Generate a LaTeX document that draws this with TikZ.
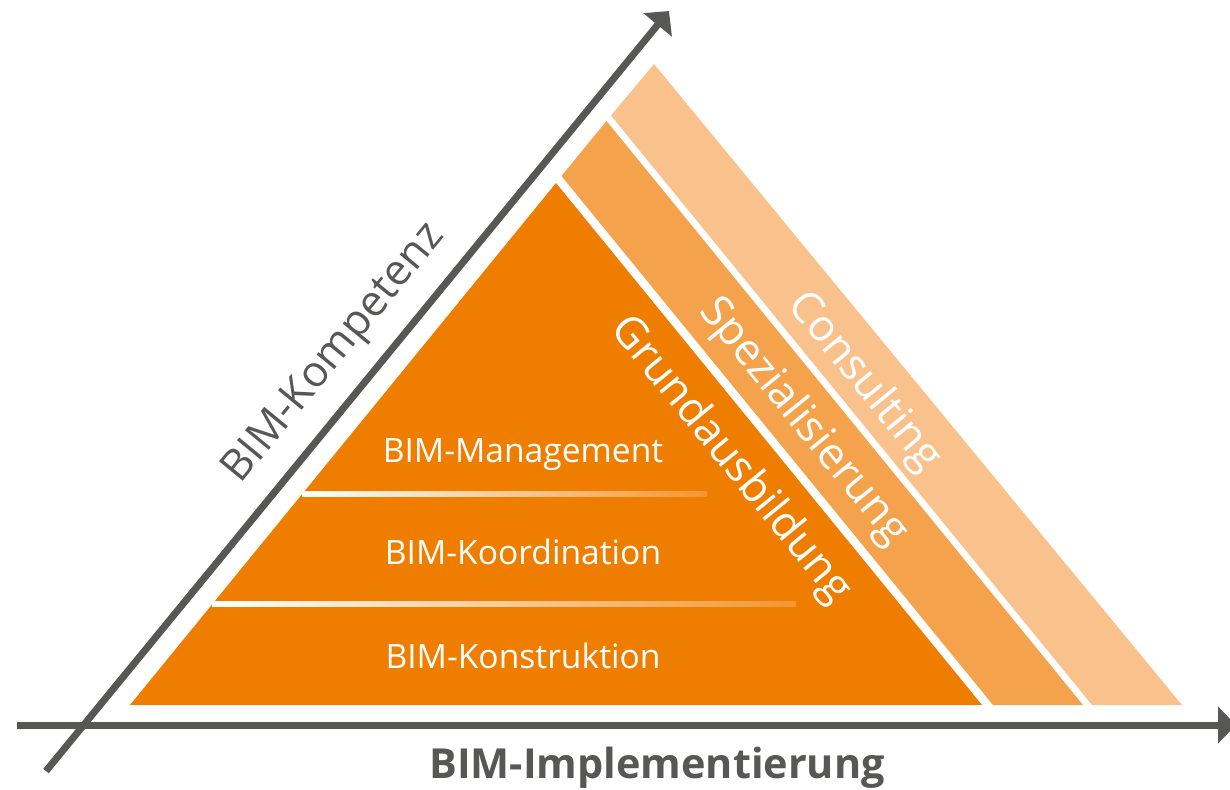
\documentclass[tikz,border=0pt]{standalone}
\usepackage{fontspec}
\setmainfont{Open Sans}
\usepackage{tikz}
\usetikzlibrary{calc}
\usetikzlibrary{arrows.meta}

\definecolor{bimorange}{HTML}{EF7D00}
\definecolor{bimmedium}{HTML}{F5A24C}
\definecolor{bimlight}{HTML}{F9C28C}
\definecolor{bimgrey}{HTML}{575756}

\begin{document}
\begin{tikzpicture}[x=0.5pt, y=-0.5pt,
        axis/.style={draw=bimgrey, line width=3.5pt, -{Triangle[width=18pt, length=9pt]}},
        level/.style={text=white, anchor=base, font=\fontsize{16.8}{20}\selectfont},
        band/.style={text=white, rotate=-50.8, font=\fontsize{21.8}{26}\selectfont},
        axislabel/.style={text=bimgrey, font=\fontsize{21.5}{25}\selectfont}]
            \useasboundingbox (0,0) rectangle (1230,789);
            % pyramid and bands
            \fill[bimorange] (130,705) -- (982,705) -- (556,183) -- cycle;
            \fill[bimmedium] (993,705) -- (1083,705) -- (606.5,121) -- (561.5,176) -- cycle;
            \fill[bimlight] (1092,705) -- (1182,705) -- (654,64) -- (611,115.5) -- cycle;
            \foreach \y/\x/\e in {494/302/707, 604/212/796}
            {
                \shade[left color=white, right color=bimorange!80!white] (\x,\y-2.5) rectangle (\e,\y+2.5);
            }
            \foreach \t/\y[count=\i from 1] in {BIM-Management/462, BIM-Koordination/564, BIM-Konstruktion/668}
            {
                \node[level] (level\i) at (523,\y) {\t};
            }
            \foreach \t/\x/\y[count=\i from 1] in {Grundausbildung/730/460, Spezialisierung/803/422, Consulting/864/382}
            {
                \node[band] (band\i) at (\x,\y) {\t};
            }
            % axes
            \coordinate (kompStart) at (46,771);
            \coordinate (kompEnd) at (669,11);
            \coordinate (implStart) at (17,725);
            \coordinate (implEnd) at (1236,725);
            \draw[axis] (kompStart) -- (kompEnd);
            \draw[axis] (implStart) -- (implEnd);
            \node[axislabel, rotate=50.6] (komp) at (335,354) {BIM-Kompetenz};
            \node[axislabel, font=\fontsize{20.7}{25}\selectfont\bfseries] (impl) at (657,768) {BIM-Implementierung};
        \end{tikzpicture}
\end{document}
